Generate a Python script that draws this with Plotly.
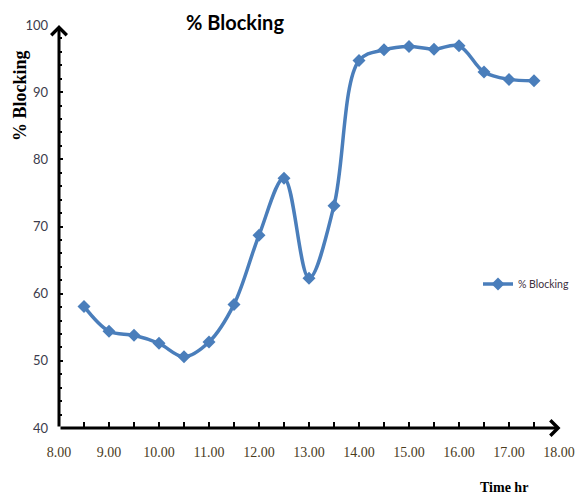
import plotly.graph_objects as go

# Time of day (hours) and the measured blocking percentage
time_hr = [8.5, 9.0, 9.5, 10.0, 10.5, 11.0, 11.5, 12.0, 12.5, 13.0,
           13.5, 14.0, 14.5, 15.0, 15.5, 16.0, 16.5, 17.0, 17.5]
blocking = [58.1, 54.4, 53.8, 52.6, 50.6, 52.8, 58.4, 68.7, 77.2, 62.3,
            73.1, 94.7, 96.3, 96.8, 96.4, 96.9, 93.0, 91.9, 91.7]

x_ticks = [8, 9, 10, 11, 12, 13, 14, 15, 16, 17, 18]
y_ticks = [40, 50, 60, 70, 80, 90, 100]

series_name = "% Blocking"
line_color = "#4a7ebb"
narrow = "Liberation Sans Narrow, Arial Narrow, Lato, sans-serif"
serif = "Liberation Serif, Times New Roman, serif"

fig = go.Figure()
fig.add_trace(go.Scatter(
    x=time_hr, y=blocking, name=series_name,
    mode="lines+markers",
    line=dict(color=line_color, width=3.5, shape="spline", smoothing=1.0),
    marker=dict(symbol="diamond", size=10, color=line_color),
))

fig.update_layout(
    width=575, height=497,
    margin=dict(l=59, r=16, t=25, b=69, autoexpand=False),
    paper_bgcolor="white", plot_bgcolor="white",
    showlegend=True,
    legend=dict(xref="container", yref="container",
                x=478 / 575, y=1 - 284 / 497, xanchor="left", yanchor="middle",
                font=dict(family=narrow, size=10.5, color="#403040"),
                bgcolor="rgba(0,0,0,0)", itemwidth=30, tracegroupgap=0),
    xaxis=dict(
        range=[8, 18], tickvals=x_ticks, tickformat=".2f",
        showgrid=False, zeroline=False, showline=False,
        ticks="inside", ticklen=6, tickwidth=2, tickcolor="black",
        minor=dict(dtick=0.5, ticks="inside", ticklen=6, tickwidth=2,
                   tickcolor="black", showgrid=False),
        tickfont=dict(family=serif, size=14, color="#4a3b1c"),
        ticklabelstandoff=14,
    ),
    yaxis=dict(
        range=[40, 100], tickvals=y_ticks,
        showgrid=False, zeroline=False, showline=False,
        ticks="inside", ticklen=4, tickwidth=2, tickcolor="black",
        minor=dict(dtick=2, ticks="inside", ticklen=3, tickwidth=2,
                   tickcolor="black", showgrid=False),
        tickfont=dict(family=narrow, size=13, color="#3c3c4c"),
        ticklabelstandoff=10,
    ),
)

# Axis lines drawn as arrows
for tip, tail in [((1.003, 0), (0, 0)), ((0, 1.0), (0, 0))]:
    fig.add_annotation(
        x=tip[0], y=tip[1], ax=tail[0], ay=tail[1],
        xref="x domain", yref="y domain", axref="x domain", ayref="y domain",
        text="", showarrow=True, arrowhead=4, arrowsize=1,
        arrowwidth=3, arrowcolor="black", standoff=0, startstandoff=0,
    )

# Chart title
fig.add_annotation(
    x=(235 - 59) / 500, y=(428 - 22) / 403, xref="paper", yref="paper",
    text="<b>% Blocking</b>", showarrow=False,
    xanchor="center", yanchor="middle",
    font=dict(family=narrow, size=20, color="black"),
)

# Axis titles
fig.add_annotation(
    x=(20 - 59) / 500, y=(428 - 96) / 403, xref="paper", yref="paper",
    text="<b>% Blocking</b>", textangle=-90, showarrow=False,
    xanchor="center", yanchor="middle",
    font=dict(family=serif, size=18, color="black"),
)
fig.add_annotation(
    x=(504 - 59) / 500, y=(428 - 487) / 403, xref="paper", yref="paper",
    text="<b>Time hr</b>", showarrow=False,
    xanchor="center", yanchor="middle",
    font=dict(family=serif, size=14, color="black"),
)

fig.write_html("out.html")
